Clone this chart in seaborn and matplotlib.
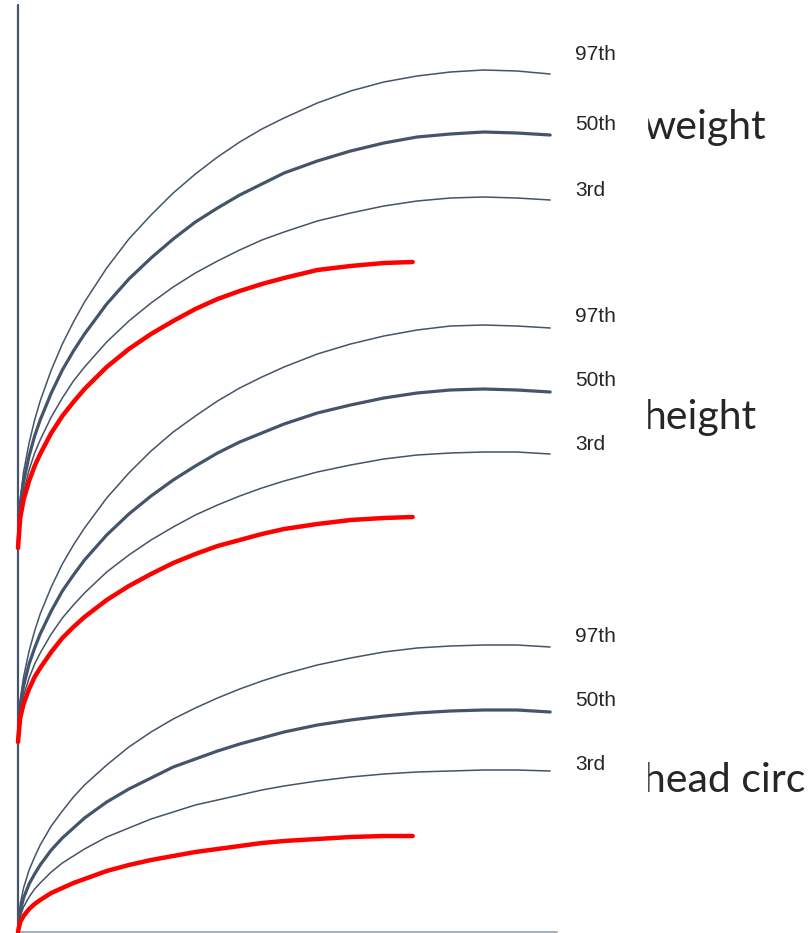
import pandas as pd
import matplotlib.pyplot as plt
import seaborn as sns
import numpy as np

# idade em meses (eixo x) e valores (eixo y, unidade arbitraria)
meses = [0, 0.1, 0.25, 0.5, 0.75, 1, 1.5, 2, 2.5, 3, 4, 5, 6, 7, 8, 9, 10,
         11, 12, 13.5, 15, 16.5, 18, 19.5, 21, 22.5, 24]
meses_paciente = [0, 0.1, 0.25, 0.5, 0.75, 1, 1.5, 2, 2.5, 3, 4, 5, 6, 7, 8,
                  9, 10, 11, 12, 13.5, 15, 16.5, 17.8]

peso_p97 = [387, 433, 460, 489, 512, 531, 562, 588, 610, 630, 664, 693, 717, 739,
            758, 775, 790, 803, 814, 829, 841, 850, 856, 860, 862, 861, 858]
peso_p50 = [387, 427, 450, 476, 496, 512, 539, 562, 581, 598, 628, 653, 674, 693,
            710, 724, 737, 748, 759, 771, 781, 789, 795, 798, 800, 799, 797]
peso_p3 = [387, 421, 440, 462, 479, 492, 515, 534, 551, 565, 590, 611, 629, 645,
           659, 671, 682, 692, 700, 711, 719, 726, 731, 734, 735, 734, 732]
peso_paciente = [384, 414, 432, 451, 466, 478, 499, 516, 530, 543, 565, 583, 598,
                 611, 623, 633, 641, 648, 654, 662, 666, 669, 670]

altura_p97 = [192, 232, 255, 281, 301, 318, 345, 368, 387, 404, 434, 459, 481, 500,
              516, 531, 544, 555, 565, 578, 588, 596, 602, 606, 607, 606, 604]
altura_p50 = [192, 226, 246, 268, 284, 298, 321, 341, 357, 372, 397, 418, 436, 452,
              466, 479, 490, 499, 508, 519, 527, 534, 539, 542, 543, 542, 540]
altura_p3 = [192, 220, 236, 254, 268, 279, 298, 314, 327, 339, 360, 377, 392, 405,
             417, 427, 436, 444, 451, 460, 467, 473, 477, 479, 480, 480, 478]
altura_paciente = [190, 214, 228, 243, 255, 264, 280, 294, 305, 315, 332, 346, 358,
                   369, 378, 386, 392, 398, 403, 408, 412, 414, 415]

pc_p97 = [0, 28, 44, 62, 75, 87, 106, 121, 135, 147, 167, 185, 200, 213,
          224, 234, 243, 251, 258, 267, 274, 280, 284, 286, 287, 287, 285]
pc_p50 = [0, 21, 34, 48, 58, 67, 82, 94, 104, 114, 130, 143, 154, 165,
          173, 181, 188, 194, 200, 207, 212, 216, 219, 221, 222, 222, 220]
pc_p3 = [0, 16, 25, 35, 43, 49, 60, 69, 76, 83, 95, 104, 113, 120,
         127, 132, 137, 142, 146, 151, 155, 158, 160, 161, 162, 162, 161]
pc_paciente = [0, 10, 16, 23, 28, 32, 39, 44, 49, 53, 61, 67, 72, 76, 80, 83, 86,
               89, 91, 93, 95, 96, 96]

rotulos_percentil = ['97th', '50th', '3rd']
y_rotulos = [[877, 807, 742], [615, 551, 488], [295, 231, 167]]
grupos = ['weight', 'height', 'head circ']
y_grupos = [805, 514, 152]

cor_curva = '#44546A'
cor_paciente = '#FF0000'

sns.set_style('white')
plt.rcParams['font.family'] = ['Liberation Sans', 'DejaVu Sans']

fig = plt.figure(figsize=(8.1, 9.33), dpi=100)
ax = fig.add_axes([0, 0, 1, 1])
ax.set_xlim(-0.812, 35.72)
ax.set_ylim(-1, 932)
ax.axis('off')

curvas = [
    (peso_p97, peso_p50, peso_p3, peso_paciente),
    (altura_p97, altura_p50, altura_p3, altura_paciente),
    (pc_p97, pc_p50, pc_p3, pc_paciente),
]

for nome, y_nome, y_rot, (p97, p50, p3, pac) in zip(grupos, y_grupos, y_rotulos, curvas):
    # percentis de referencia
    for serie, lw in zip([p97, p50, p3], [1.1, 2.3, 1.1]):
        sns.lineplot(x=meses, y=serie, ax=ax, color=cor_curva, linewidth=lw,
                     sort=False, zorder=2)
    for rot, yr in zip(rotulos_percentil, y_rot):
        ax.text(25.12, yr, rot, fontsize=15, va='center', ha='left', zorder=5)
    # curva do paciente
    sns.lineplot(x=meses_paciente, y=pac, ax=ax, color=cor_paciente,
                 linewidth=3.2, sort=False, zorder=3)
    ax.text(28.2, y_nome, nome, fontsize=29.5, family=['Lato', 'DejaVu Sans'],
            va='center', ha='left', zorder=1)

# faixa branca que recorta o inicio dos titulos grandes
ax.axvspan(24.6, 28.35, color='white', zorder=4)

# eixos desenhados a mao
ax.axvline(0, ymin=1 / 933, ymax=928 / 933, color=cor_curva, linewidth=1.6, zorder=2)
ax.axhline(0, xmin=18 / 810, xmax=557 / 810, color='#A6AEBA', linewidth=1.4, zorder=2)

plt.savefig('out.png', dpi=100)
